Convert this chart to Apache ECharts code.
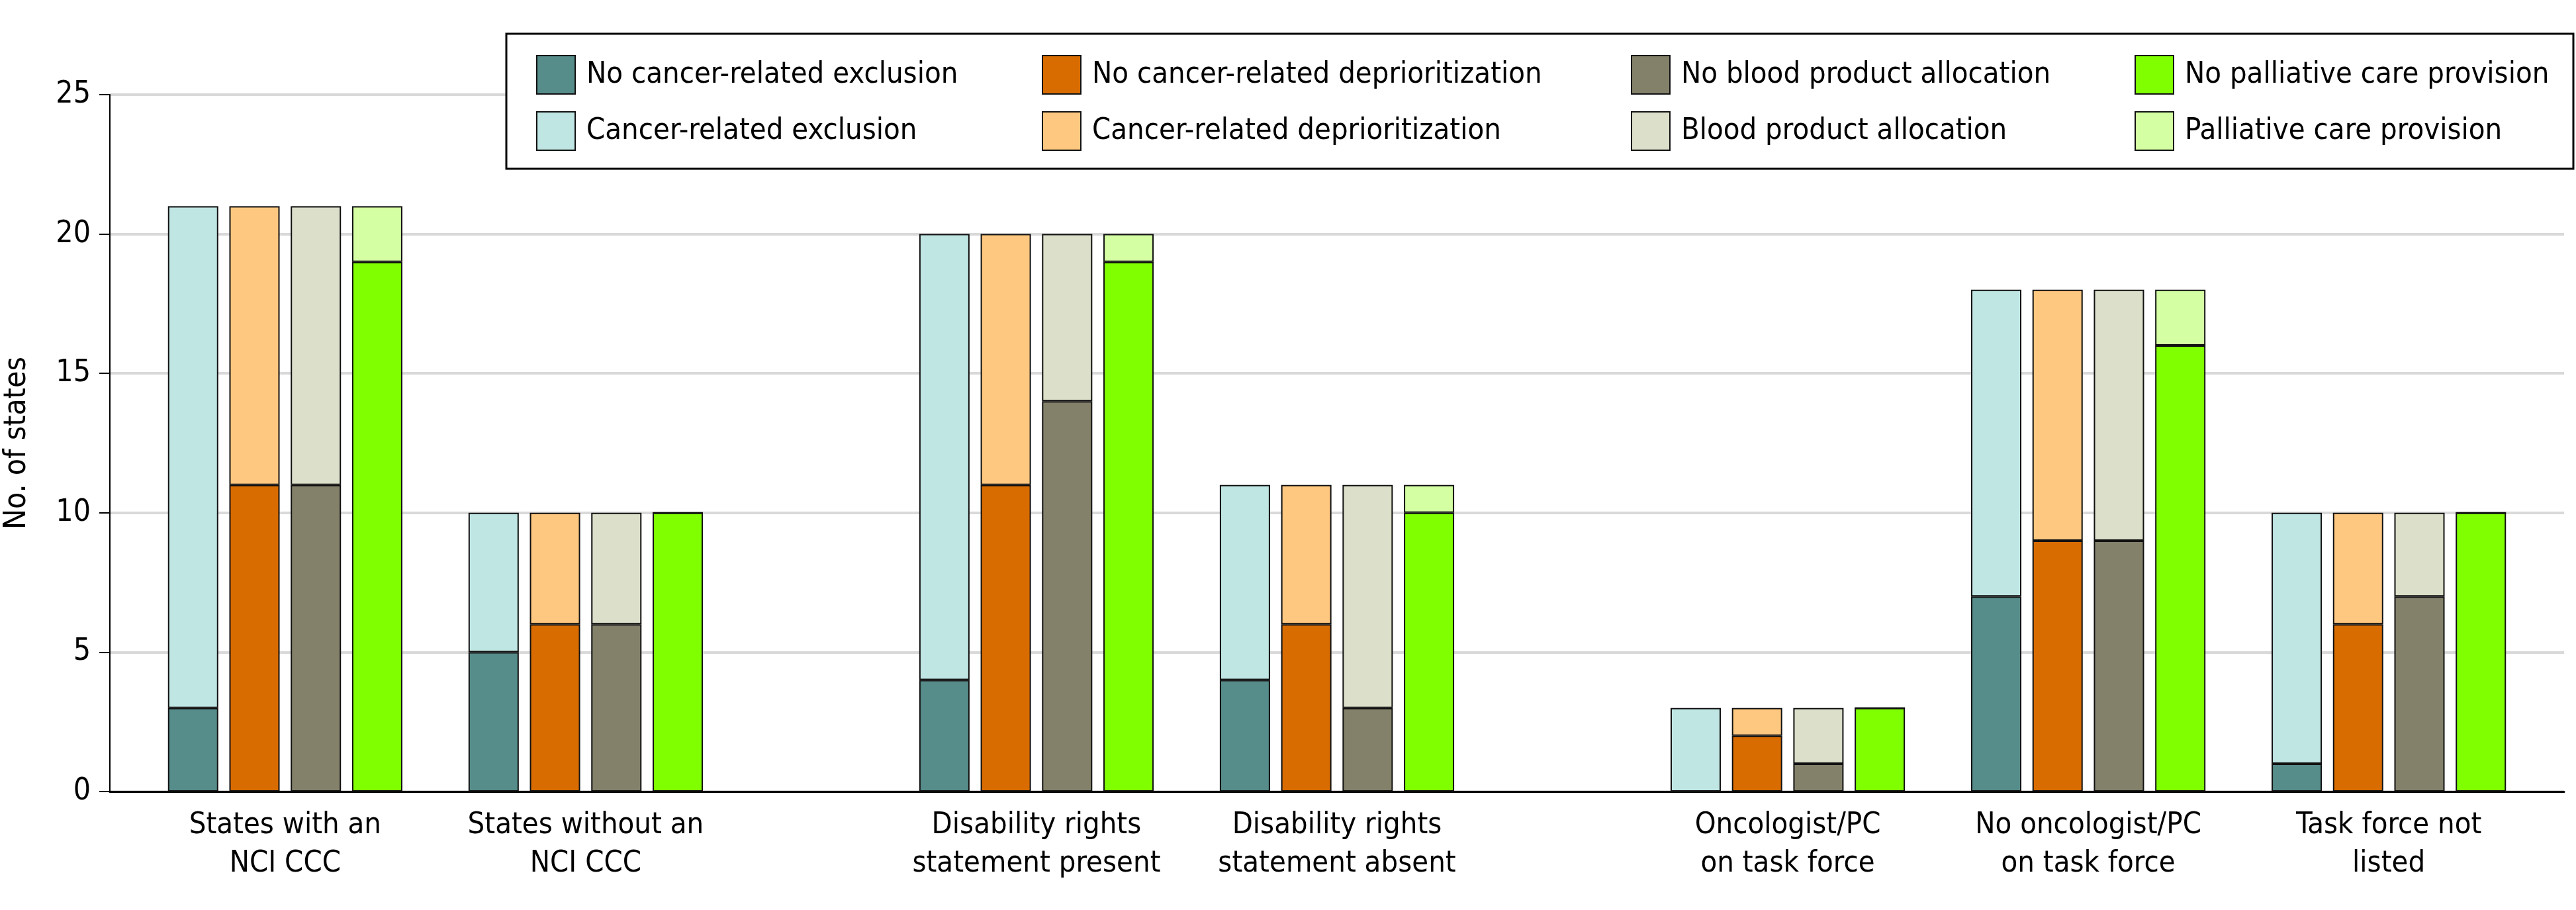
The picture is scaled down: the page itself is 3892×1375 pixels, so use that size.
<!DOCTYPE html>
<html>
<head>
<meta charset="utf-8">
<script src="https://cdn.jsdelivr.net/npm/echarts@6/dist/echarts.min.js"></script>
<style>
  html, body { margin: 0; padding: 0; background: #fff; }
  #echart { width: 3892px; height: 1375px; }
</style>
</head>
<body>
<div id="echart"></div>
<script>
var dom = document.getElementById("echart");
var myChart = echarts.init(dom);

var FONT = "'DejaVu Sans Condensed', 'DejaVu Sans', sans-serif";

// groups along the x axis
let groupLabels = [
    'States with an\nNCI CCC',
    'States without an\nNCI CCC',
    'Disability rights\nstatement present',
    'Disability rights\nstatement absent',
    'Oncologist/PC\non task force',
    'No oncologist/PC\non task force',
    'Task force not\nlisted'
];

// number of states per group, "no" part (bottom) and "yes" part (top)
let exclusionNo = [3, 5, 4, 4, 0, 7, 1];
let exclusionYes = [18, 5, 16, 7, 3, 11, 9];
let deprioNo = [11, 6, 11, 6, 2, 9, 6];
let deprioYes = [10, 4, 9, 5, 1, 9, 4];
let bloodNo = [11, 6, 14, 3, 1, 9, 7];
let bloodYes = [10, 4, 6, 8, 2, 9, 3];
let palliativeNo = [19, 10, 19, 10, 3, 16, 10];
let palliativeYes = [2, 0, 1, 1, 0, 2, 0];

let yTicks = [0, 5, 10, 15, 20, 25];

// the axis is cut in thin slots so the three blocks get wider gaps
let slotCount = 49;
let groupSlots = [3, 9, 18, 24, 33, 39, 45];

let slots = [];
let slotLabels = [];
for (let i = 0; i < slotCount; i++) {
    slots.push(String(i));
    slotLabels.push('');
}
groupSlots.forEach(function (s, i) { slotLabels[s] = groupLabels[i]; });

function spread(values) {
    let out = [];
    for (let i = 0; i < slotCount; i++) out.push('-');
    groupSlots.forEach(function (s, i) { out[s] = values[i]; });
    return out;
}

function barSeries(name, stack, color, values) {
    return {
        name: name,
        type: 'bar',
        stack: stack,
        barWidth: 76,
        barGap: '22%',
        itemStyle: { color: color, borderColor: '#111', borderWidth: 2 },
        emphasis: { disabled: true },
        data: spread(values)
    };
}

function legendColumn(left, names) {
    return {
        left: left,
        top: 83,
        orient: 'vertical',
        padding: 0,
        itemGap: 25,
        itemWidth: 58,
        itemHeight: 58,
        icon: 'rect',
        selectedMode: false,
        z: 10,
        textStyle: { fontFamily: FONT, fontSize: 45, color: '#000', padding: [0, 0, 0, 12] },
        data: names
    };
}

var option = {
    animation: false,
    backgroundColor: '#fff',
    textStyle: { fontFamily: FONT },
    grid: {
        left: 166,
        right: 18,
        top: 143,
        bottom: 179,
        containLabel: false,
        outerBoundsMode: 'none'
    },
    graphic: [{
        type: 'rect',
        z: 5,
        shape: { x: 765, y: 51, width: 3123, height: 204 },
        style: { fill: '#fff', stroke: '#000', lineWidth: 3 }
    }],
    legend: [
        legendColumn(810, ['No cancer-related exclusion', 'Cancer-related exclusion']),
        legendColumn(1574, ['No cancer-related deprioritization', 'Cancer-related deprioritization']),
        legendColumn(2464, ['No blood product allocation', 'Blood product allocation']),
        legendColumn(3225, ['No palliative care provision', 'Palliative care provision'])
    ],
    xAxis: {
        type: 'category',
        data: slots,
        axisLine: { show: true, lineStyle: { color: '#000', width: 3 } },
        axisTick: { show: false },
        splitLine: { show: false },
        axisLabel: {
            interval: 0,
            margin: 22,
            fontFamily: FONT,
            fontSize: 45,
            lineHeight: 58,
            color: '#000',
            formatter: function (v, idx) { return slotLabels[idx]; }
        }
    },
    yAxis: {
        type: 'value',
        min: yTicks[0],
        max: yTicks[yTicks.length - 1],
        interval: 5,
        name: 'No. of states',
        nameLocation: 'middle',
        nameGap: 117,
        nameTextStyle: { fontFamily: FONT, fontSize: 46, color: '#000' },
        axisLine: { show: true, lineStyle: { color: '#000', width: 2 } },
        axisTick: { show: true, length: 16, lineStyle: { color: '#000', width: 2 } },
        axisLabel: { margin: 29, fontFamily: FONT, fontSize: 46, color: '#000' },
        splitLine: { show: true, lineStyle: { color: '#d9d9d9', width: 4 } }
    },
    series: [
        barSeries('No cancer-related exclusion', 'excl', '#568c8a', exclusionNo),
        barSeries('Cancer-related exclusion', 'excl', '#c0e6e4', exclusionYes),
        barSeries('No cancer-related deprioritization', 'deprio', '#d96c00', deprioNo),
        barSeries('Cancer-related deprioritization', 'deprio', '#ffc880', deprioYes),
        barSeries('No blood product allocation', 'blood', '#84816b', bloodNo),
        barSeries('Blood product allocation', 'blood', '#dcdfc9', bloodYes),
        barSeries('No palliative care provision', 'pall', '#80ff00', palliativeNo),
        barSeries('Palliative care provision', 'pall', '#d4ffa3', palliativeYes)
    ]
};

myChart.setOption(option);
</script>
</body>
</html>
